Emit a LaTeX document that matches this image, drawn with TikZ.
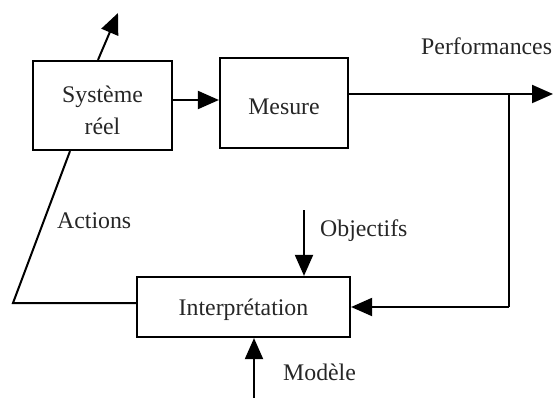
\documentclass[tikz,border=0pt]{standalone}
\usepackage{fontspec}
\setmainfont{Liberation Serif}
\usetikzlibrary{arrows.meta}
\begin{document}
\begin{tikzpicture}[x=1pt,y=-1pt,
  font=\fontsize{23.8}{32}\selectfont,
  box/.style={draw, line width=2.2pt, inner sep=0pt},
  boxtext/.style={align=center, inner sep=0pt, text=black!85},
  link/.style={line width=2pt},
  arr/.style={link, -{Triangle[length=21pt,width=18pt]}},
  lbl/.style={inner sep=0pt, text=black!85}]
  \useasboundingbox (0,0) rectangle (553,398);

  % blocks
  \node[box, minimum width=139pt, minimum height=89pt] (sys) at (102.5,105.5) {};
  \node[box, minimum width=128pt, minimum height=90pt] (mes) at (284,103) {};
  \node[box, minimum width=213pt, minimum height=60pt] (int) at (243.5,307) {};
  \node[boxtext] (tsys) at ([yshift=-5pt]sys.center) {Système\\réel};
  \node[boxtext] (tmes) at ([yshift=-4pt]mes.center) {Mesure};
  \node[boxtext] (tint) at ([yshift=-3pt]int.center) {Interprétation};

  % free ends and bends
  \coordinate (up)   at (118,13);
  \coordinate (out)  at (553,94);
  \coordinate (tap)  at (509,94);
  \coordinate (ret)  at (509,307);
  \coordinate (bend) at (13,303);
  \coordinate (obj)  at (304,210);
  \coordinate (mod)  at (254,398);

  % connectors
  \draw[arr] (sys.north -| 98,0) -- (up);
  \draw[arr] (sys.east |- 0,100) -- (mes.west |- 0,100);
  \draw[arr] (mes.east |- out) -- (out);
  \draw[link] (tap) -- (ret);
  \draw[arr] (ret) -- (int.east |- ret);
  \draw[link] (int.west |- bend) -- (bend) -- (sys.south -| 70,0);
  \draw[arr] (obj) -- (obj |- int.north);
  \draw[arr] (mod) -- (mod |- int.south);

  % labels
  \node[lbl, anchor=west] (lperf) at (421,46) {Performances};
  \node[lbl, anchor=west] (lact) at (57,221) {Actions};
  \node[lbl, anchor=west] (lobj) at (320,231) {Objectifs};
  \node[lbl, anchor=west] (lmod) at (283,372) {Modèle};
\end{tikzpicture}
\end{document}
